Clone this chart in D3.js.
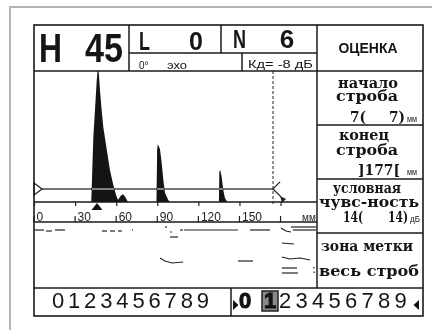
<!DOCTYPE html>
<html lang="ru">
<head>
<meta charset="utf-8">
<title>Дефектоскоп - А-развертка</title>
<script src="https://d3js.org/d3.v7.min.js"></script>
<style>
  body { margin: 0; background: #fff; }
  svg { display: block; }
  .sans { font-family: "Liberation Sans", Arial, sans-serif; }
  .menu { font-family: "DejaVu Serif", serif; font-weight: bold; }
</style>
</head>
<body>
<script>
  // A-scan envelope: depth in mm, amplitude in % of screen height
  var ascanMm  = [0, 41.8, 43.3, 44.5, 45.8, 46.4, 47.2, 48.2, 49.4, 50.6, 53.1, 55.5, 57.9, 59.9, 61.3, 63.5, 65, 66.5, 68.6,
                  89.4, 89.9, 90.4, 91, 92, 93.2, 94.4, 95.6, 98, 99.3,
                  135, 135.3, 136, 137, 138.2, 139.4, 141.1, 206.6];
  var ascanAmp = [0, 0, 49, 70, 93, 100, 100, 85, 70, 57, 40, 24, 13, 5.3, 1.5, 5, 6, 4, 0,
                  0, 40, 44, 43, 40, 30, 17, 7, 1.5, 0,
                  0, 23, 24.4, 19, 9, 3, 0, 0];

  // gate: start / end (mm) and level (%)
  var gateStart = 0, gateEnd = 174.5, gateLevel = 10;
  var markerMm = 46;

  // ruler
  var tickMm     = [0, 30, 60, 90, 120, 150, 180];
  var tickLabels = ["0", "30", "60", "90", "120", "150", ""];

  // B-scan traces: [mm, depth]
  var bscanLines = [
    [[0.7, 8], [7.3, 8]], [[8.8, 9], [13.1, 9]], [[15.3, 8], [22.6, 8]],
    [[49.6, 9], [53.3, 9]], [[55.5, 9], [59.1, 9]], [[61.3, 9], [64.2, 9]], [[71.5, 8], [72.3, 8]],
    [[95.6, 5], [97.1, 5]], [[99.3, 10], [100.7, 10]], [[106.6, 8], [108.8, 8]],
    [[109.5, 8], [148.9, 8]], [[157.7, 8], [172.3, 8]],
    [[180.3, 6], [183.9, 9], [187.6, 10]], [[187.6, 5], [205.8, 5]], [[189, 8], [205.8, 8]],
    [[99.3, 15], [105.1, 15]], [[181, 21], [189.8, 22]],
    [[92, 36], [95.6, 39], [100.7, 41], [108.8, 40]], [[148.9, 39], [159.9, 39]],
    [[181, 35], [186.9, 37], [194.2, 36], [201.5, 38]],
    [[181, 46], [192, 46]], [[181, 51], [192.7, 51]],
    [[204.4, 45], [204.4, 46.5]], [[204.4, 49.5], [204.4, 51]]
  ];

  var digits = ["0","1","2","3","4","5","6","7","8","9"];

  var svg = d3.select("body").append("svg").attr("width", 432).attr("height", 330);
  svg.append("rect").attr("width", 432).attr("height", 330).attr("fill", "#fff");

  // outer gray frame
  svg.append("path").attr("d", "M10,330V7H432").attr("fill", "none")
     .attr("stroke", "#b4b4b4").attr("stroke-width", 2);

  var x = d3.scaleLinear().domain([0, 206.6]).range([34, 317]);
  var amp = d3.scaleLinear().domain([0, 100]).range([202, 71]);
  var depth = d3.scaleLinear().domain([0, 66]).range([222, 288]);

  // echo envelope
  var area = d3.area().x(function(d){ return x(d[0]); })
               .y0(amp(0)).y1(function(d){ return amp(d[1]); });
  svg.append("path").datum(d3.zip(ascanMm, ascanAmp))
     .attr("d", area).attr("fill", "#141414");

  // gate line (inverts over echo)
  svg.append("line")
     .attr("x1", x(gateStart) + 8).attr("x2", x(gateEnd))
     .attr("y1", amp(gateLevel)).attr("y2", amp(gateLevel))
     .attr("stroke", "#b8b8b8").attr("stroke-width", 1.5)
     .style("mix-blend-mode", "difference");
  // gate start marker
  var gy = amp(gateLevel);
  svg.append("path")
     .attr("d", "M" + x(gateStart) + "," + (gy - 6) + "L" + (x(gateStart) + 8) + "," + gy + "L" + x(gateStart) + "," + (gy + 6) + "Z")
     .attr("fill", "#fff").attr("stroke", "#222").attr("stroke-width", 1.3);
  // gate end marker
  var ge = x(gateEnd);
  svg.append("path")
     .attr("d", "M" + (ge + 7) + "," + (gy - 7) + "L" + ge + "," + gy + "L" + (ge + 8) + "," + (gy + 8))
     .attr("fill", "none").attr("stroke", "#222").attr("stroke-width", 1.3);
  svg.append("path")
     .attr("d", "M" + (ge + 7) + "," + (gy + 7) + "L" + (ge + 13) + "," + (gy + 10) + "L" + (ge + 9) + "," + (gy + 14) + "Z")
     .attr("fill", "#222");
  svg.append("line").attr("x1", ge).attr("x2", ge).attr("y1", 71).attr("y2", 206)
     .attr("stroke", "#222").attr("stroke-width", 1).attr("stroke-dasharray", "3,2");

  // ruler
  var axis = d3.axisBottom(x).tickValues(tickMm).tickSize(4)
               .tickFormat(function(d, i){ return tickLabels[i]; });
  var gAx = svg.append("g").attr("transform", "translate(0,202)").call(axis);
  gAx.select(".domain").remove();
  gAx.selectAll("line").attr("stroke", "#222").attr("stroke-width", 1.2);
  gAx.selectAll("text").attr("y", 19).attr("dy", 0).attr("x", 2)
     .attr("text-anchor", "start").attr("fill", "#222")
     .attr("font-family", "Liberation Sans, Arial, sans-serif").attr("font-size", 12);
  svg.selectAll(".btick").data(tickMm).enter().append("line")
     .attr("x1", function(d){ return x(d); }).attr("x2", function(d){ return x(d); })
     .attr("y1", 216).attr("y2", 222).attr("stroke", "#222").attr("stroke-width", 1.2);
  svg.append("text").attr("class", "sans").attr("x", 302).attr("y", 221)
     .attr("font-size", 10).attr("fill", "#222").text("мм");

  // marker
  var mx = x(markerMm);
  svg.append("path").attr("d", "M" + mx + ",203L" + (mx - 5.5) + ",210L" + (mx + 5.5) + ",210Z").attr("fill", "#111");

  // B-scan
  var bline = d3.line().x(function(d){ return x(d[0]); }).y(function(d){ return depth(d[1]); });
  svg.selectAll(".bscan").data(bscanLines).enter().append("path")
     .attr("d", bline).attr("fill", "none").attr("stroke", "#222").attr("stroke-width", 1.2);

  // grid of the screen
  var grid = [
    [34, 71, 423, 71], [34, 202, 317, 202], [34, 222, 317, 222], [34, 288, 423, 288],
    [129, 25, 129, 71], [129, 53, 317, 53], [221, 25, 221, 53], [242, 53, 242, 71],
    [317, 25, 317, 288], [317, 125, 423, 125], [317, 179, 423, 179], [317, 233, 423, 233],
    [231, 288, 231, 316]
  ];
  svg.selectAll(".grid").data(grid).enter().append("line")
     .attr("x1", function(d){ return d[0]; }).attr("y1", function(d){ return d[1]; })
     .attr("x2", function(d){ return d[2]; }).attr("y2", function(d){ return d[3]; })
     .attr("stroke", "#1a1a1a").attr("stroke-width", 1.5);
  svg.append("rect").attr("x", 34).attr("y", 25).attr("width", 389).attr("height", 291)
     .attr("fill", "none").attr("stroke", "#1a1a1a").attr("stroke-width", 1.6);

  // header
  function txt(s, px, py, size, opts) {
    opts = opts || {};
    var t = svg.append("text").attr("x", px).attr("y", py).attr("font-size", size)
               .attr("fill", "#151515").attr("class", opts.cls || "sans").text(s);
    if (opts.bold) t.attr("font-weight", "bold");
    if (opts.anchor) t.attr("text-anchor", opts.anchor);
    if (opts.len) t.attr("textLength", opts.len).attr("lengthAdjust", "spacingAndGlyphs");
    return t;
  }
  txt("H", 39, 62, 40, {bold: true, len: 23});
  txt("45", 85, 62, 40, {bold: true, len: 38});
  txt("L", 139, 50, 25, {bold: true, len: 11});
  txt("0", 196, 50, 25, {bold: true, anchor: "middle"});
  txt("N", 233, 48, 26, {bold: true, len: 13});
  txt("6", 287, 48, 26, {bold: true, anchor: "middle"});
  txt("0°", 139, 69, 10);
  txt("эхо", 167, 69, 10, {len: 20});
  txt("Кд= -8 дБ", 248, 68, 10, {len: 65});

  // menu column
  txt("ОЦЕНКА", 368, 53, 15, {bold: true, anchor: "middle", len: 59});
  var menuLabels = [
    ["начало", 368, 88, 60], ["строба", 367, 101, 62],
    ["конец", 364, 140, 50], ["строба", 367, 155, 62],
    ["условная", 367, 193, 68], ["чувс-ность", 369, 207, 100],
    ["зона метки", 367, 251, 92], ["весь строб", 369, 276, 100]
  ];
  menuLabels.forEach(function(m){
    txt(m[0], m[1], m[2], 14, {cls: "menu", anchor: "middle", len: m[3]});
  });
  txt("7(", 350, 122, 15, {cls: "menu", len: 16});
  txt("7)", 389, 122, 15, {cls: "menu", len: 16});
  txt("мм", 407, 122, 9, {len: 10});
  txt("]177[", 358, 175, 15, {cls: "menu", len: 42});
  txt("мм", 407, 175, 9, {len: 10});
  txt("14(", 343, 222, 15, {cls: "menu", len: 20});
  txt("14)", 388, 222, 15, {cls: "menu", len: 20});
  txt("дБ", 410, 222, 9, {len: 10});

  // bottom digit rows
  svg.selectAll(".dl").data(digits).enter().append("text")
     .attr("class", "sans").attr("x", function(d, i){ return 58 + i * 16.1; }).attr("y", 308)
     .attr("text-anchor", "middle").attr("font-size", 22).attr("fill", "#151515").text(function(d){ return d; });
  svg.append("path").attr("d", "M233,300L238.5,305L233,310Z").attr("fill", "#111");
  svg.append("path").attr("d", "M419,300L413.5,305L419,310Z").attr("fill", "#111");
  svg.append("rect").attr("x", 262).attr("y", 291).attr("width", 16).attr("height", 20)
     .attr("fill", "#8a8a8a").attr("stroke", "#222").attr("stroke-width", 1.5);
  var rightX = [245, 270, 285, 301.5, 318, 334.5, 351, 367.5, 384, 400.5];
  svg.selectAll(".dr").data(digits).enter().append("text")
     .attr("class", "sans").attr("x", function(d, i){ return rightX[i]; }).attr("y", 308)
     .attr("text-anchor", "middle").attr("font-size", 22).attr("fill", "#151515")
     .attr("font-weight", function(d, i){ return i < 2 ? "bold" : "normal"; })
     .attr("stroke", function(d, i){ return i < 2 ? "#111" : "none"; })
     .text(function(d){ return d; });
</script>
</body>
</html>
